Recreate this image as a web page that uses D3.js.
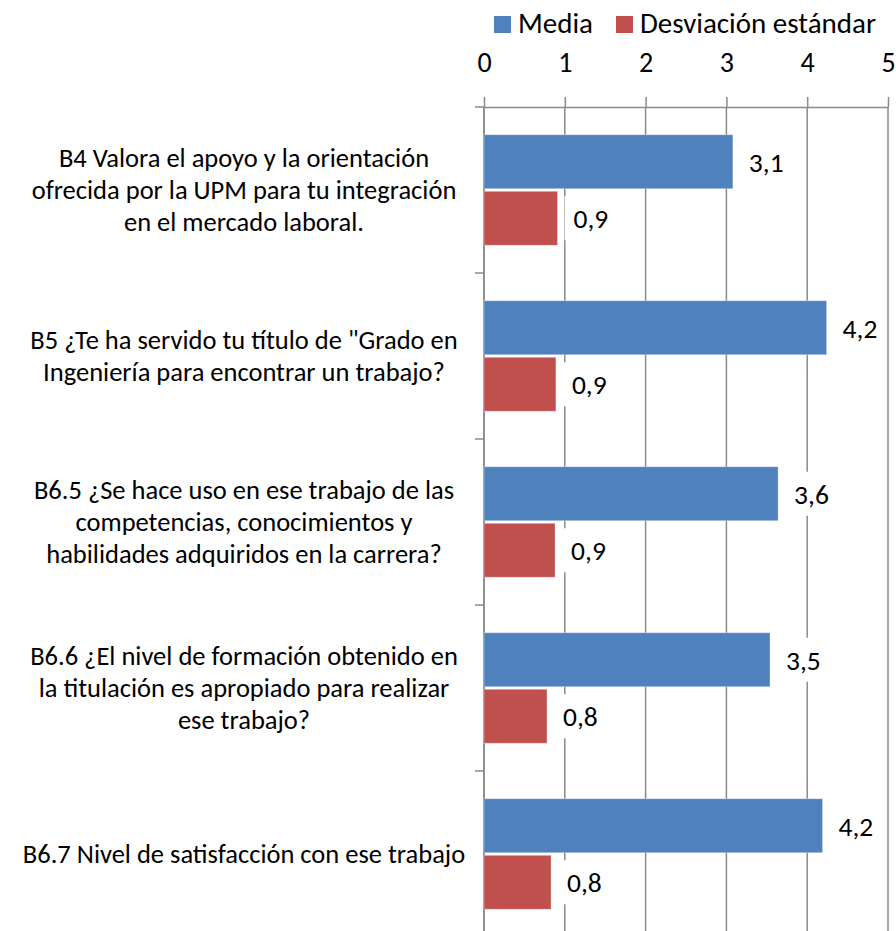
<!DOCTYPE html>
<html>
<head>
<meta charset="utf-8">
<script src="https://cdn.jsdelivr.net/npm/d3@7/dist/d3.min.js"></script>
<style>
  body { margin: 0; background: #fff; }
  text { font-family: Carlito, Calibri, Lato, sans-serif; font-size: 26.5px; fill: #000; }
  .value-label { font-size: 27.5px; }
  .axis.x text { font-size: 28px; }
  .legend text { font-size: 29px; }
  .grid line { stroke: #8a8a8a; stroke-width: 1.5px; }
  .axis path, .axis line { stroke: #8a8a8a; stroke-width: 1.5px; fill: none; }
</style>
</head>
<body>
<div id="container"></div>
<script>
  // preguntas (con saltos de línea como en el original)
  const categories = [
    "B4 Valora el apoyo y la orientación\nofrecida por la UPM para tu integración\nen el mercado laboral.",
    "B5 ¿Te ha servido tu título de \"Grado en\nIngeniería para encontrar un trabajo?",
    "B6.5 ¿Se hace uso en ese trabajo de las\ncompetencias, conocimientos y\nhabilidades adquiridos en la carrera?",
    "B6.6 ¿El nivel de formación obtenido en\nla titulación es apropiado para realizar\nese trabajo?",
    "B6.7 Nivel de satisfacción con ese trabajo"
  ];
  const series = ["Media", "Desviación estándar"];
  const media = [3.08, 4.24, 3.64, 3.54, 4.19];
  const desviacion = [0.91, 0.89, 0.88, 0.78, 0.83];
  const tickValues = [0, 1, 2, 3, 4, 5];
  const colors = ["#4F81BD", "#C0504D"];

  const width = 896, height = 931;
  const plot = { left: 484, right: 888, top: 107, bottom: 937 };

  let svg = d3.select("#container").append("svg")
    .attr("width", width)
    .attr("height", height);

  let x = d3.scaleLinear()
    .domain([0, 5])
    .range([plot.left, plot.right]);

  let y = d3.scaleBand()
    .domain(categories)
    .range([plot.top, plot.bottom])
    .padding(0);

  let yInner = d3.scaleBand()
    .domain(series)
    .range([y.bandwidth() * 0.167, y.bandwidth() * 0.833])
    .paddingInner(0.045);

  let color = d3.scaleOrdinal().domain(series).range(colors);

  let locale = d3.formatLocale({ decimal: ",", thousands: ".", grouping: [3], currency: ["", "€"] });
  let fmt = locale.format(".1f");

  // líneas de división verticales
  svg.append("g")
    .attr("class", "grid")
    .selectAll("line")
    .data(tickValues)
    .join("line")
    .attr("x1", d => x(d))
    .attr("x2", d => x(d))
    .attr("y1", plot.top)
    .attr("y2", plot.bottom);

  // eje superior
  let xAxis = d3.axisTop(x)
    .tickValues(tickValues)
    .tickSize(10)
    .tickSizeOuter(0)
    .tickPadding(25)
    .tickFormat(d3.format("d"));

  svg.append("g")
    .attr("class", "axis x")
    .attr("transform", "translate(0," + plot.top + ")")
    .call(xAxis)
    .call(g => g.attr("font-size", null).attr("font-family", null));

  // eje izquierdo con marcas entre categorías
  let leftAxis = svg.append("g").attr("class", "axis y");
  leftAxis.append("line")
    .attr("x1", plot.left).attr("x2", plot.left)
    .attr("y1", plot.top).attr("y2", plot.bottom);
  leftAxis.selectAll(".tick")
    .data(categories.concat([null]))
    .join("line")
    .attr("class", "tick")
    .attr("x1", plot.left - 9).attr("x2", plot.left)
    .attr("y1", (d, i) => i < categories.length ? y(d) : plot.bottom)
    .attr("y2", (d, i) => i < categories.length ? y(d) : plot.bottom);

  // etiquetas de categorías
  let lineHeight = 32;
  svg.append("g")
    .selectAll("text")
    .data(categories)
    .join("text")
    .attr("text-anchor", "middle")
    .each(function(d) {
      let lines = d.split("\n");
      let cy = y(d) + y.bandwidth() / 2;
      let t = d3.select(this);
      lines.forEach((ln, i) => {
        t.append("tspan")
          .attr("x", 244)
          .attr("y", cy + (i - (lines.length - 1) / 2) * lineHeight)
          .attr("dy", "0.34em")
          .text(ln);
      });
    });

  // barras
  let rows = categories.map((c, i) => ({
    cat: c,
    values: [
      { key: series[0], value: media[i] },
      { key: series[1], value: desviacion[i] }
    ]
  }));

  let groups = svg.append("g")
    .selectAll("g")
    .data(rows)
    .join("g")
    .attr("transform", d => "translate(0," + y(d.cat) + ")");

  groups.selectAll("rect.bar")
    .data(d => d.values)
    .join("rect")
    .attr("class", "bar")
    .attr("x", x(0))
    .attr("y", d => yInner(d.key))
    .attr("width", d => x(d.value) - x(0))
    .attr("height", yInner.bandwidth())
    .attr("fill", d => color(d.key))
    .attr("stroke", "rgba(255,255,255,0.35)")
    .attr("stroke-width", 1);

  // etiquetas de datos con fondo blanco
  groups.selectAll("g.label")
    .data(d => d.values)
    .join("g")
    .attr("class", "label")
    .each(function(d) {
      let g = d3.select(this);
      let cy = yInner(d.key) + yInner.bandwidth() / 2;
      let bg = g.append("rect").attr("fill", "#fff");
      let t = g.append("text")
        .attr("class", "value-label")
        .attr("x", x(d.value) + 16)
        .attr("y", cy)
        .attr("dy", "0.36em")
        .text(fmt(d.value));
      let w = t.node().getComputedTextLength();
      bg.attr("x", x(d.value) + 7)
        .attr("y", cy - 22)
        .attr("width", w + 18)
        .attr("height", 44);
    });

  // leyenda
  let legend = svg.append("g").attr("class", "legend");
  let lx = 494;
  series.forEach(s => {
    legend.append("rect")
      .attr("x", lx).attr("y", 16)
      .attr("width", 17).attr("height", 17)
      .attr("fill", color(s));
    let t = legend.append("text")
      .attr("x", lx + 24)
      .attr("y", 33)
      .text(s);
    lx += 24 + t.node().getComputedTextLength() + 23;
  });
</script>
</body>
</html>
